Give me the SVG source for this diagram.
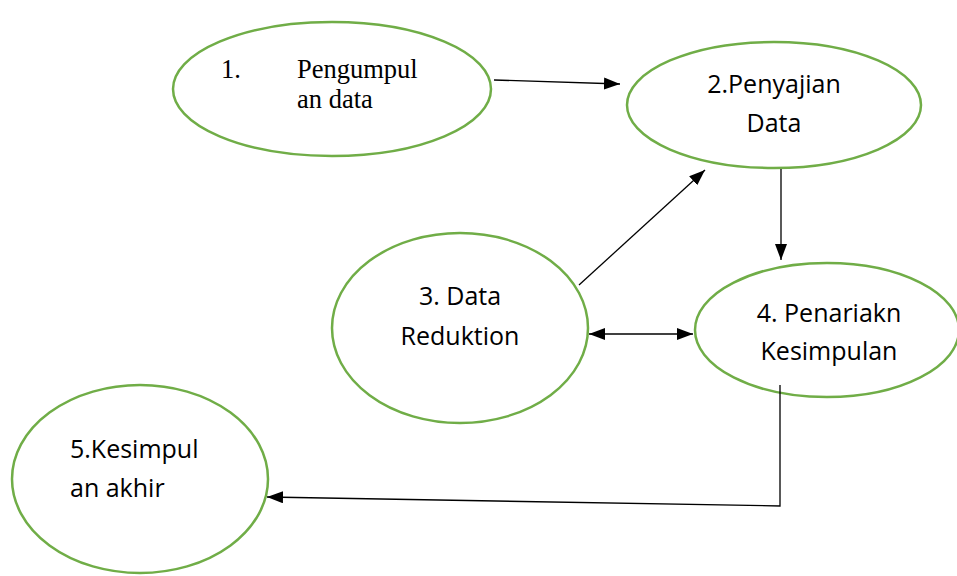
<svg xmlns="http://www.w3.org/2000/svg" width="957" height="576" viewBox="0 0 957 576">
<style>
.node{fill:#fff;stroke:#70ad47;stroke-width:2.5}
.serif{font-family:"Liberation Serif","Times New Roman",serif;font-size:26.5px;fill:#000}
.sans{font-family:"Open Sans","Noto Sans","Liberation Sans",sans-serif;font-size:25px;fill:#000}
.conn{stroke:#000;stroke-width:1.3;fill:none}
</style>
<defs>
<marker id="ah" viewBox="0 0 16 12" refX="16" refY="6" markerWidth="16" markerHeight="12" markerUnits="userSpaceOnUse" orient="auto-start-reverse">
<path d="M0,0 L16,6 L0,12 Z" fill="#000"/>
</marker>
</defs>
<rect width="957" height="576" fill="#fff"/>
<g id="n1">
<ellipse class="node" cx="332" cy="89" rx="159" ry="67"/>
<text class="serif" x="221" y="78">1.</text>
<text class="serif" x="297" y="78">Pengumpul</text>
<text class="serif" x="297" y="108">an data</text>
</g>
<g id="n2">
<ellipse class="node" cx="774" cy="105" rx="147" ry="63"/>
<text class="sans" x="774" y="93" text-anchor="middle">2.Penyajian</text>
<text class="sans" x="774" y="132" text-anchor="middle">Data</text>
</g>
<g id="n3">
<ellipse class="node" cx="460" cy="328" rx="128" ry="95"/>
<text class="sans" x="460" y="305" text-anchor="middle">3. Data</text>
<text class="sans" x="460" y="345" text-anchor="middle">Reduktion</text>
</g>
<g id="n4">
<ellipse class="node" cx="827" cy="330" rx="132" ry="67"/>
<text class="sans" x="829" y="322" text-anchor="middle">4. Penariakn</text>
<text class="sans" x="829" y="360" text-anchor="middle">Kesimpulan</text>
</g>
<g id="n5">
<ellipse class="node" cx="140" cy="479" rx="128" ry="94"/>
<text class="sans" x="70" y="458">5.Kesimpul</text>
<text class="sans" x="70" y="497">an akhir</text>
</g>
<g id="connectors">
<line class="conn" x1="494" y1="80" x2="620" y2="84" marker-end="url(#ah)"/>
<line class="conn" x1="781" y1="169" x2="781" y2="260" marker-end="url(#ah)"/>
<line class="conn" x1="579" y1="285" x2="705" y2="170" marker-end="url(#ah)"/>
<line class="conn" x1="589" y1="334" x2="693" y2="334" marker-start="url(#ah)" marker-end="url(#ah)"/>
<polyline class="conn" points="780,385 780,506 267,497" marker-end="url(#ah)"/>
</g>
</svg>
